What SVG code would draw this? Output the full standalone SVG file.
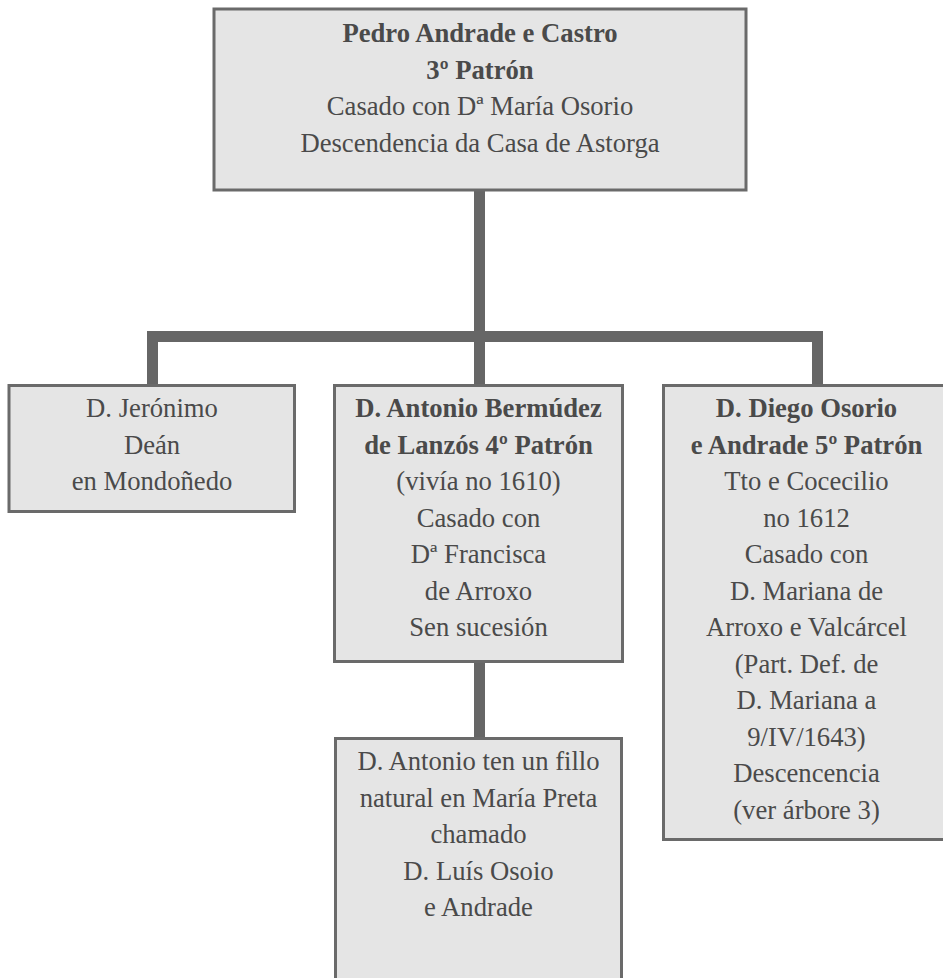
<svg xmlns="http://www.w3.org/2000/svg" width="943" height="978" viewBox="0 0 943 978">
<style>
.box{fill:#e5e5e5;stroke:#6a6a6a;stroke-width:3}
.t{font-family:"Liberation Serif","Times New Roman",serif;font-size:26.67px;fill:#4a4a4a;text-anchor:middle}
.b{font-weight:bold}
.c{fill:none;stroke:#666666;stroke-width:11;stroke-linejoin:miter;stroke-linecap:butt}
</style>
<rect width="943" height="978" fill="#ffffff"/>
<g id="connectors">
<path class="c" d="M479.5 190 V384"/>
<path class="c" d="M152.5 384 V336.5 H817.5 V384"/>
<path class="c" d="M479.5 662 V738"/>
</g>
<g id="pedro">
<rect class="box" x="214" y="9" width="532" height="181"/>
<text class="t b" x="480" y="42">Pedro Andrade e Castro</text>
<text class="t b" x="480" y="78.5">3º Patrón</text>
<text class="t" x="480" y="115">Casado con Dª María Osorio</text>
<text class="t" x="480" y="151.5">Descendencia da Casa de Astorga</text>
</g>
<g id="jeronimo">
<rect class="box" x="9" y="385.5" width="285.5" height="126"/>
<text class="t" x="152" y="417">D. Jerónimo</text>
<text class="t" x="152" y="453.5">Deán</text>
<text class="t" x="152" y="490">en Mondoñedo</text>
</g>
<g id="antonio">
<rect class="box" x="334.5" y="385.5" width="288" height="276"/>
<text class="t b" x="478.5" y="417">D. Antonio Bermúdez</text>
<text class="t b" x="478.5" y="453.5">de Lanzós 4º Patrón</text>
<text class="t" x="478.5" y="490">(vivía no 1610)</text>
<text class="t" x="478.5" y="526.5">Casado con</text>
<text class="t" x="478.5" y="563">Dª Francisca</text>
<text class="t" x="478.5" y="599.5">de Arroxo</text>
<text class="t" x="478.5" y="636">Sen sucesión</text>
</g>
<g id="diego">
<rect class="box" x="663.5" y="385.5" width="288" height="454"/>
<text class="t b" x="806.5" y="417">D. Diego Osorio</text>
<text class="t b" x="806.5" y="453.5">e Andrade 5º Patrón</text>
<text class="t" x="806.5" y="490">Tto e Cocecilio</text>
<text class="t" x="806.5" y="526.5">no 1612</text>
<text class="t" x="806.5" y="563">Casado con</text>
<text class="t" x="806.5" y="599.5">D. Mariana de</text>
<text class="t" x="806.5" y="636">Arroxo e Valcárcel</text>
<text class="t" x="806.5" y="672.5">(Part. Def. de</text>
<text class="t" x="806.5" y="709">D. Mariana a</text>
<text class="t" x="806.5" y="745.5">9/IV/1643)</text>
<text class="t" x="806.5" y="782">Descencencia</text>
<text class="t" x="806.5" y="818.5">(ver árbore 3)</text>
</g>
<g id="luis">
<rect class="box" x="335.5" y="738.5" width="286" height="260"/>
<text class="t" x="478.5" y="770">D. Antonio ten un fillo</text>
<text class="t" x="478.5" y="806.5">natural en María Preta</text>
<text class="t" x="478.5" y="843">chamado</text>
<text class="t" x="478.5" y="879.5">D. Luís Osoio</text>
<text class="t" x="478.5" y="916">e Andrade</text>
</g>
</svg>
